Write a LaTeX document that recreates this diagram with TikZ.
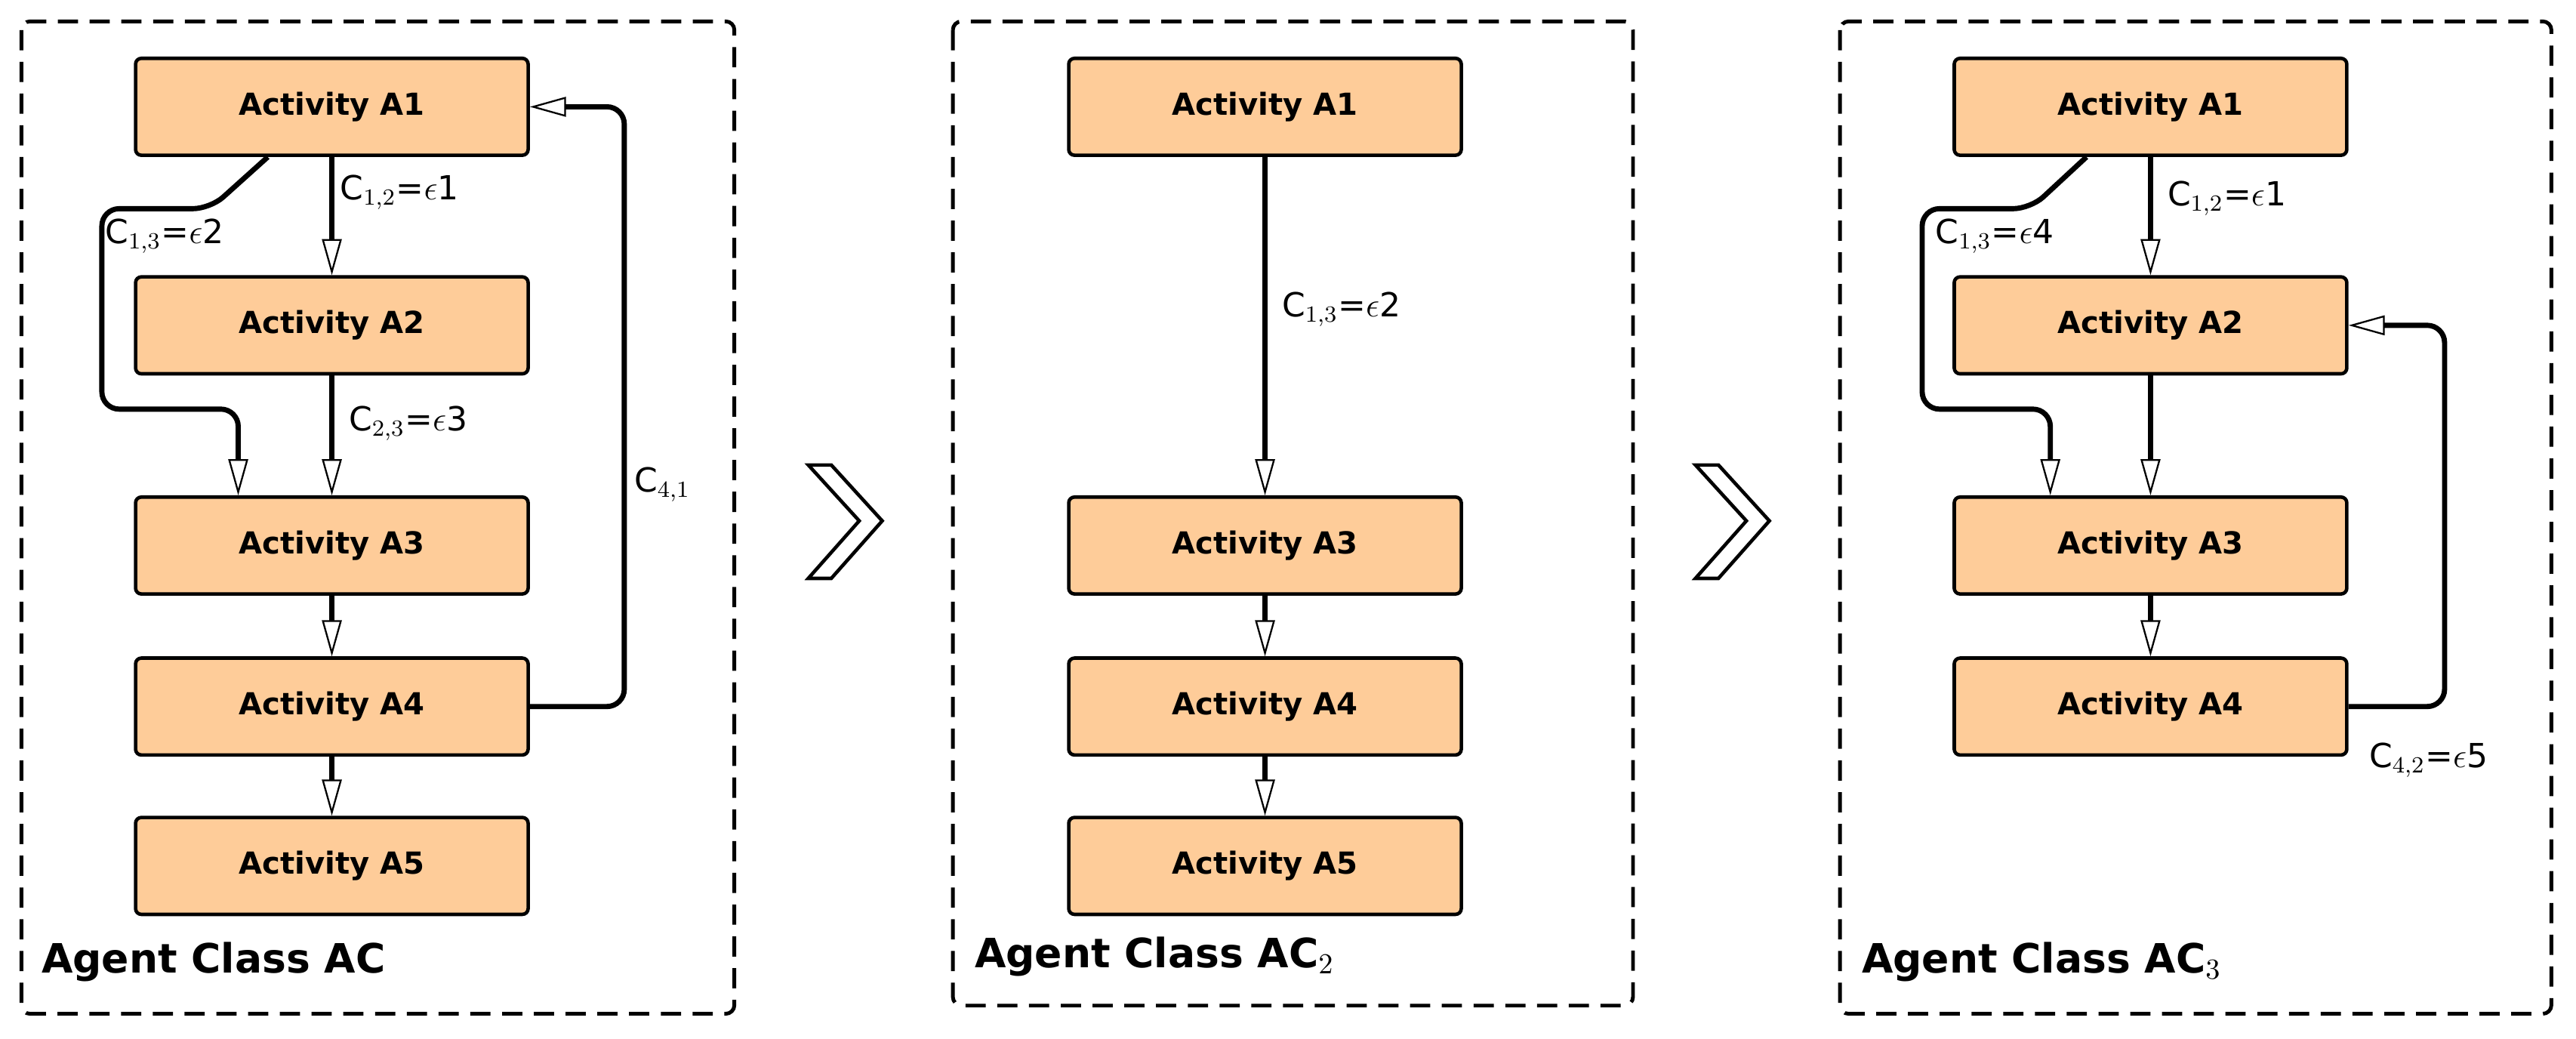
\documentclass[tikz,border=0pt]{standalone}
\usepackage{fontspec}
\setmainfont{DejaVu Sans}
\usetikzlibrary{arrows.meta}
\definecolor{actfill}{RGB}{254,204,153}

\begin{document}
\begin{tikzpicture}[x=0.02cm,y=-0.02cm,
  act/.style={draw,line width=1.2pt,fill=actfill,rounded corners=2pt,minimum width=4.78cm,minimum height=1.18cm,font=\bfseries\fontsize{10.5}{12}\selectfont},
  flow/.style={line width=1.8pt,rounded corners=6pt,-{Triangle[open,length=0.44cm,width=0.24cm,line width=0.6pt]}},
  lab/.style={font=\fontsize{11.5}{13}\selectfont,inner sep=1pt},
  panel/.style={draw,line width=1.3pt,dash pattern=on 7pt off 4pt,rounded corners=3pt},
  title/.style={font=\bfseries\fontsize{14}{16}\selectfont,anchor=base west,inner sep=0pt}]

\useasboundingbox (0,0) rectangle (1568,632);

%Riquadri tratteggiati
\draw[panel] (13,13) rectangle (447,617);
\draw[panel] (580,13) rectangle (994,612);
\draw[panel] (1120,13) rectangle (1553,617);

%Primo riquadro: classe AC
\node[act] (a1) at (202,65) {Activity A1};
\node[act] (a2) at (202,198) {Activity A2};
\node[act] (a3) at (202,332) {Activity A3};
\node[act] (a4) at (202,430) {Activity A4};
\node[act] (a5) at (202,527) {Activity A5};
\coordinate (a1s) at ([xshift=-39*0.02cm]a1.south);
\coordinate (a3n) at ([xshift=-57*0.02cm]a3.north);
\draw[flow] (a1) -- (a2) node[lab,pos=0.3,anchor=west,xshift=1pt] {C$_{1,2}$=$\epsilon$1};
\draw[flow] (a2) -- (a3) node[lab,pos=0.4,anchor=west,xshift=4pt] {C$_{2,3}$=$\epsilon$3};
\draw[flow] (a1s) -- (128,127) -- (62,127) -- (62,249) -- (a3n|-0,249) -- (a3n);
\node[lab,anchor=north west] (l13) at (62,131) {C$_{1,3}$=$\epsilon$2};
\draw[flow] (a3) -- (a4);
\draw[flow] (a4) -- (a5);
\draw[flow] (a4.east) -- (380,430) -- (380,65) -- (a1.east);
\node[lab,anchor=west] (l41) at (384,295) {C$_{4,1}$};
\node[title] (t1) at (25,592) {Agent Class AC};

%Freccia a chevron
\draw[line width=1.2pt,fill=white] (492,283) -- (506,283) -- (537,317) -- (506,352) -- (492,352) -- (523,317) -- cycle;

%Secondo riquadro: classe AC2
\node[act] (b1) at (770,65) {Activity A1};
\node[act] (b3) at (770,332) {Activity A3};
\node[act] (b4) at (770,430) {Activity A4};
\node[act] (b5) at (770,527) {Activity A5};
\draw[flow] (b1) -- (b3) node[lab,pos=0.45,anchor=west,xshift=4pt] {C$_{1,3}$=$\epsilon$2};
\draw[flow] (b3) -- (b4);
\draw[flow] (b4) -- (b5);
\node[title] (t2) at (593,589) {Agent Class AC$_2$};

\draw[line width=1.2pt,fill=white] (1032,283) -- (1046,283) -- (1077,317) -- (1046,352) -- (1032,352) -- (1063,317) -- cycle;

%Terzo riquadro: classe AC3
\node[act] (c1) at (1309,65) {Activity A1};
\node[act] (c2) at (1309,198) {Activity A2};
\node[act] (c3) at (1309,332) {Activity A3};
\node[act] (c4) at (1309,430) {Activity A4};
\coordinate (c1s) at ([xshift=-39*0.02cm]c1.south);
\coordinate (c3n) at ([xshift=-61*0.02cm]c3.north);
\draw[flow] (c1) -- (c2) node[lab,pos=0.35,anchor=west,xshift=4pt] {C$_{1,2}$=$\epsilon$1};
\draw[flow] (c2) -- (c3);
\draw[flow] (c1s) -- (1236,127) -- (1170,127) -- (1170,249) -- (c3n|-0,249) -- (c3n);
\node[lab,anchor=north west] (l13c) at (1176,131) {C$_{1,3}$=$\epsilon$4};
\draw[flow] (c3) -- (c4);
\draw[flow] (c4.east) -- (1488,430) -- (1488,198) -- (c2.east);
\node[lab,anchor=north west] (l42) at (1440,450) {C$_{4,2}$=$\epsilon$5};
\node[title] (t3) at (1133,592) {Agent Class AC$_3$};

\end{tikzpicture}
\end{document}
